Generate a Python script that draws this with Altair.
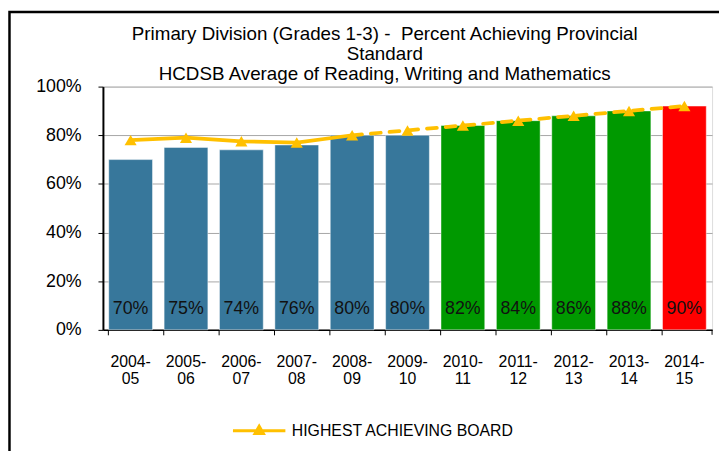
import altair as alt
import pandas as pd

years = ["2004-05", "2005-06", "2006-07", "2007-08", "2008-09", "2009-10",
         "2010-11", "2011-12", "2012-13", "2013-14", "2014-15"]
hcdsb = [70, 75, 74, 76, 80, 80, 84, 86, 88, 90, 92]
bar_labels = ["70%", "75%", "74%", "76%", "80%", "80%", "82%", "84%", "86%", "88%", "90%"]
bar_colors = ["#37779B"] * 6 + ["#009900"] * 4 + ["#FF0000"]
highest_board = [78, 79, 77.5, 77, 80, 82, 84, 86, 88, 90, 92]
solid_years = years[:5]
dashed_years = years[4:]

FONT = "Liberation Sans"
GOLD = "#FFC000"

df = pd.DataFrame({"year": years, "value": hcdsb, "label": bar_labels,
                   "color": bar_colors, "board": highest_board})
solid_df = df[df["year"].isin(solid_years)].assign(series="HIGHEST ACHIEVING BOARD")
dashed_df = df[df["year"].isin(dashed_years)]

xscale = alt.Scale(paddingInner=0.21, paddingOuter=0.105)
yscale = alt.Scale(domain=[0, 100], nice=False)

x_axis = alt.Axis(
    title=None, bandPosition=0, tickSize=5, tickColor="black", domainColor="black",
    domainWidth=1.5, labelAngle=0, labelFont=FONT, labelFontSize=16, labelColor="black",
    labelPadding=19, labelLineHeight=17.5, labelBaseline="top",
    labelExpr="[slice(datum.label, 0, 5), slice(datum.label, 5)]",
)
y_axis = alt.Axis(
    title=None, values=[0, 20, 40, 60, 80, 100], labelExpr="datum.value + '%'",
    tickSize=5, tickColor="black", domainColor="black", domainWidth=2,
    grid=True, gridColor="#A6A6A6", gridWidth=1, labelFont=FONT, labelFontSize=18,
    labelColor="black", labelPadding=17,
)

bars = alt.Chart(df).mark_bar(stroke="#FFFFFF", strokeOpacity=0.45, strokeWidth=1).encode(
    x=alt.X("year:N", sort=years, scale=xscale, axis=x_axis),
    y=alt.Y("value:Q", scale=yscale, axis=y_axis),
    color=alt.Color("color:N", scale=None),
)

texts = alt.Chart(df).mark_text(font=FONT, fontSize=18, color="#111111",
                                baseline="middle", dy=-21).encode(
    x=alt.X("year:N", sort=years),
    y=alt.datum(0),
    text="label:N",
)

legend_path = "M-1,0H1M-0.16,0.11L0,-0.17L0.16,0.11Z"
solid_line = alt.Chart(solid_df).mark_line(strokeWidth=3.8).encode(
    x=alt.X("year:N", sort=years),
    y="board:Q",
    color=alt.Color("series:N", scale=alt.Scale(range=[GOLD]),
                    legend=alt.Legend(
                        title=None, orient="none", legendX=130, legendY=320,
                        symbolType=legend_path, symbolSize=2809,
                        symbolStrokeColor=GOLD, symbolFillColor=GOLD,
                        symbolStrokeWidth=3, labelFont=FONT, labelFontSize=16,
                        labelColor="black", labelOffset=5, labelLimit=0, padding=0)),
)
dashed_line = alt.Chart(dashed_df).mark_line(
    strokeWidth=3.8, color=GOLD, strokeDash=[10, 9], strokeCap="round").encode(
    x=alt.X("year:N", sort=years),
    y="board:Q",
)
points = alt.Chart(df).mark_point(shape="triangle-up", filled=True, size=150,
                                  color=GOLD, opacity=1).encode(
    x=alt.X("year:N", sort=years),
    y="board:Q",
)

frame = alt.Chart(pd.DataFrame({"a": [0]})).mark_rect(
    fill=None, stroke="black", strokeWidth=2.5).encode(
    x=alt.value(-94.5), x2=alt.value(760), y=alt.value(-75.5), y2=alt.value(500))
end_tick = alt.Chart(pd.DataFrame({"a": [0]})).mark_rule(color="black").encode(
    x=alt.value(616), y=alt.value(246), y2=alt.value(251))

chart = alt.layer(bars, texts, solid_line, dashed_line, points, end_tick, frame).properties(
    width=616, height=246,
    padding={"left": 96, "top": 77, "right": 7, "bottom": 120},
    autosize=alt.AutoSizeParams(type="none"),
    title=alt.TitleParams(
        text=["Primary Division (Grades 1-3) -\u00a0 Percent Achieving Provincial",
              "Standard", "HCDSB Average of Reading, Writing and Mathematics"],
        font=FONT, fontSize=19, fontWeight="normal", color="black",
        lineHeight=20.5, anchor="middle", dx=-23, dy=74.5, offset=0),
).configure_view(stroke="black", strokeWidth=1).configure(background="white")

chart.save("out.html", embed_options={"renderer": "svg", "actions": False})
